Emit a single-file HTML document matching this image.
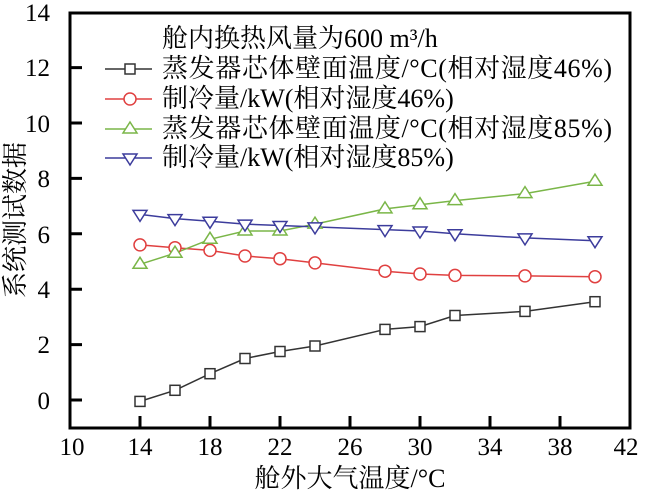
<!DOCTYPE html><html><head><meta charset="utf-8"><style>body{margin:0;background:#fff}</style></head><body>
<svg width="650" height="498" xmlns="http://www.w3.org/2000/svg" xmlns:xlink="http://www.w3.org/1999/xlink" font-family="Liberation Serif, Noto Serif CJK SC, serif">
<defs>
<rect id="sq" x="-5" y="-5" width="10" height="10" fill="#fff" stroke="#333" stroke-width="1.5"/>
<circle id="ci" r="6" fill="#fff" stroke="#e04040" stroke-width="1.5"/>
<path id="tu" d="M0 -7l7 11h-14z" fill="#fff" stroke="#7ab648" stroke-width="1.5"/>
<path id="td" d="M0 7l7 -11h-14z" fill="#fff" stroke="#3c3c9c" stroke-width="1.5"/>
</defs>
<rect width="650" height="498" fill="#fff"/>
<g stroke="#000" stroke-width="3" fill="none">
<rect x="70" y="13" width="560" height="415"/>
<path d="M70 400h12M70 344.6h12M70 289.2h12M70 233.8h12M70 178.4h12M70 123h12M70 67.6h12"/>
<path d="M140 428v-12M210 428v-12M280 428v-12M350 428v-12M420 428v-12M490 428v-12M560 428v-12"/>
</g>
<g font-size="25" text-anchor="end" fill="#000">
<text x="50" y="409">0</text><text x="50" y="353">2</text><text x="50" y="298">4</text><text x="50" y="243">6</text><text x="50" y="187">8</text><text x="50" y="132">10</text><text x="50" y="76">12</text><text x="50" y="21">14</text>
</g>
<g font-size="25" text-anchor="middle" fill="#000">
<text x="72" y="455">10</text><text x="140" y="455">14</text><text x="210" y="455">18</text><text x="280" y="455">22</text><text x="350" y="455">26</text><text x="420" y="455">30</text><text x="490" y="455">34</text><text x="560" y="455">38</text><text x="626" y="455">42</text>
<text x="350" y="487" font-size="26">舱外大气温度/°C</text>
</g>
<text transform="translate(24,220) rotate(-90)" font-size="26" text-anchor="middle">系统测试数据</text>
<g font-size="26" fill="#000">
<text x="162" y="47">舱内换热风量为600 m³/h</text>
<text x="162" y="77" textLength="450">蒸发器芯体壁面温度/°C(相对湿度46%)</text>
<text x="162" y="107">制冷量/kW(相对湿度46%)</text>
<text x="162" y="137" textLength="450">蒸发器芯体壁面温度/°C(相对湿度85%)</text>
<text x="162" y="166">制冷量/kW(相对湿度85%)</text>
</g>
<g stroke-width="1.5" fill="none">
<path d="M105 69h47" stroke="#333"/><path d="M105 99h47" stroke="#e04040"/><path d="M105 129h47" stroke="#7ab648"/><path d="M105 158h47" stroke="#3c3c9c"/>
<polyline stroke="#333" points="140,401.4 175,390.3 210,373.7 245,358.5 280,351.5 315,346 385,329.4 420,326.6 455,315.5 525,311.4 595,301.7"/>
<polyline stroke="#e04040" points="140,244.9 175,247.7 210,250.4 245,256 280,258.7 315,262.9 385,271.2 420,274 455,275.4 525,275.9 595,276.7"/>
<polyline stroke="#7ab648" points="140,264.3 175,253.2 210,239.3 245,231 280,231 315,224.1 385,208.9 420,204.7 455,200.6 525,193.6 595,181.2"/>
<polyline stroke="#3c3c9c" points="140,214.4 175,218.6 210,221.3 245,224.1 280,225.5 315,226.9 385,229.6 420,231 455,233.8 525,237.9 595,240.7"/>
</g>
<use href="#sq" x="130" y="69"/><use href="#ci" x="130" y="99"/><use href="#tu" x="130" y="129"/><use href="#td" x="130" y="158"/>
<use href="#sq" x="140" y="401.4"/><use href="#sq" x="175" y="390.3"/><use href="#sq" x="210" y="373.7"/><use href="#sq" x="245" y="358.5"/><use href="#sq" x="280" y="351.5"/><use href="#sq" x="315" y="346"/><use href="#sq" x="385" y="329.4"/><use href="#sq" x="420" y="326.6"/><use href="#sq" x="455" y="315.5"/><use href="#sq" x="525" y="311.4"/><use href="#sq" x="595" y="301.7"/>
<use href="#ci" x="140" y="244.9"/><use href="#ci" x="175" y="247.7"/><use href="#ci" x="210" y="250.4"/><use href="#ci" x="245" y="256"/><use href="#ci" x="280" y="258.7"/><use href="#ci" x="315" y="262.9"/><use href="#ci" x="385" y="271.2"/><use href="#ci" x="420" y="274"/><use href="#ci" x="455" y="275.4"/><use href="#ci" x="525" y="275.9"/><use href="#ci" x="595" y="276.7"/>
<use href="#tu" x="140" y="264.3"/><use href="#tu" x="175" y="253.2"/><use href="#tu" x="210" y="239.3"/><use href="#tu" x="245" y="231"/><use href="#tu" x="280" y="231"/><use href="#tu" x="315" y="224.1"/><use href="#tu" x="385" y="208.9"/><use href="#tu" x="420" y="204.7"/><use href="#tu" x="455" y="200.6"/><use href="#tu" x="525" y="193.6"/><use href="#tu" x="595" y="181.2"/>
<use href="#td" x="140" y="214.4"/><use href="#td" x="175" y="218.6"/><use href="#td" x="210" y="221.3"/><use href="#td" x="245" y="224.1"/><use href="#td" x="280" y="225.5"/><use href="#td" x="315" y="226.9"/><use href="#td" x="385" y="229.6"/><use href="#td" x="420" y="231"/><use href="#td" x="455" y="233.8"/><use href="#td" x="525" y="237.9"/><use href="#td" x="595" y="240.7"/>
</svg></body></html>
